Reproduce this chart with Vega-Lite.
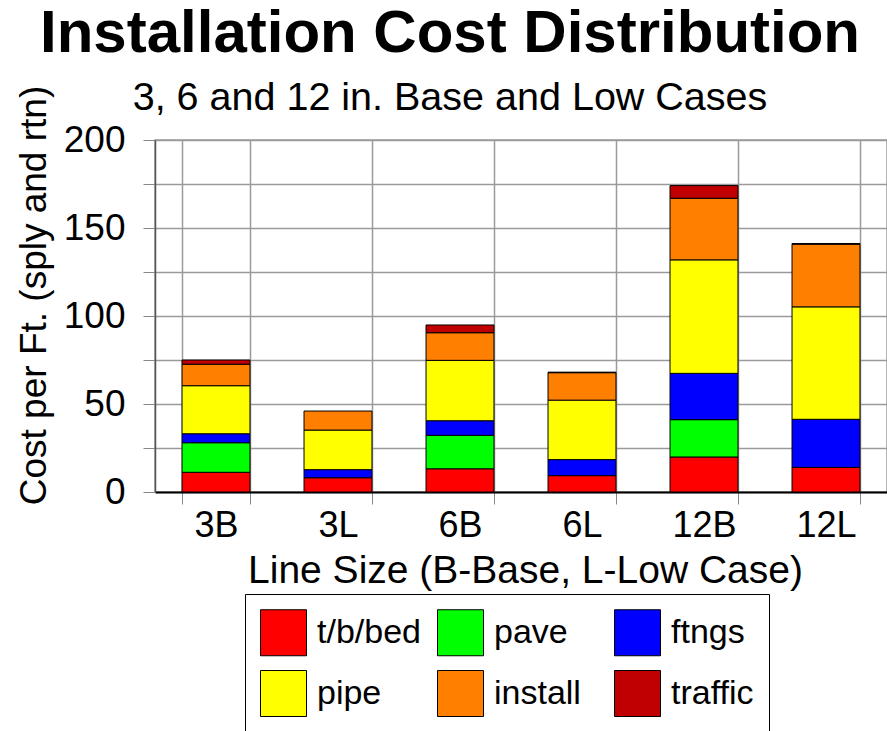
{
  "$schema": "https://vega.github.io/schema/vega-lite/v6.json",
  "width": 732,
  "height": 352,
  "autosize": {"type": "none"},
  "padding": {"left": 155, "top": 140, "right": 0, "bottom": 239},
  "background": "white",
  "config": {
    "font": "Liberation Sans",
    "view": {"stroke": "#9a9a9a", "strokeWidth": 1.5}
  },
  "title": {
    "text": "Installation Cost Distribution",
    "subtitle": "3, 6 and 12 in. Base and Low Cases",
    "font": "Liberation Sans",
    "fontSize": 60,
    "fontWeight": "bold",
    "color": "black",
    "subtitleFont": "Liberation Sans",
    "subtitleFontSize": 39.5,
    "subtitleColor": "black",
    "anchor": "middle",
    "frame": "group",
    "dx": -71,
    "offset": -33,
    "subtitlePadding": 14
  },
  "data": {
    "values": [
      {"line": "3B", "component": "t/b/bed", "ord": 1, "cost": 11.2},
      {"line": "3B", "component": "pave", "ord": 2, "cost": 16.8},
      {"line": "3B", "component": "ftngs", "ord": 3, "cost": 5.1},
      {"line": "3B", "component": "pipe", "ord": 4, "cost": 27.3},
      {"line": "3B", "component": "install", "ord": 5, "cost": 12.2},
      {"line": "3B", "component": "traffic", "ord": 6, "cost": 2.4},
      {"line": "3L", "component": "t/b/bed", "ord": 1, "cost": 8.1},
      {"line": "3L", "component": "ftngs", "ord": 3, "cost": 4.6},
      {"line": "3L", "component": "pipe", "ord": 4, "cost": 22.5},
      {"line": "3L", "component": "install", "ord": 5, "cost": 10.8},
      {"line": "6B", "component": "t/b/bed", "ord": 1, "cost": 13.2},
      {"line": "6B", "component": "pave", "ord": 2, "cost": 19.0},
      {"line": "6B", "component": "ftngs", "ord": 3, "cost": 8.3},
      {"line": "6B", "component": "pipe", "ord": 4, "cost": 34.3},
      {"line": "6B", "component": "install", "ord": 5, "cost": 15.7},
      {"line": "6B", "component": "traffic", "ord": 6, "cost": 4.4},
      {"line": "6L", "component": "t/b/bed", "ord": 1, "cost": 9.3},
      {"line": "6L", "component": "ftngs", "ord": 3, "cost": 9.1},
      {"line": "6L", "component": "pipe", "ord": 4, "cost": 33.8},
      {"line": "6L", "component": "install", "ord": 5, "cost": 15.6},
      {"line": "6L", "component": "traffic", "ord": 6, "cost": 0.3},
      {"line": "12B", "component": "t/b/bed", "ord": 1, "cost": 19.9},
      {"line": "12B", "component": "pave", "ord": 2, "cost": 21.2},
      {"line": "12B", "component": "ftngs", "ord": 3, "cost": 26.3},
      {"line": "12B", "component": "pipe", "ord": 4, "cost": 64.5},
      {"line": "12B", "component": "install", "ord": 5, "cost": 35.0},
      {"line": "12B", "component": "traffic", "ord": 6, "cost": 7.2},
      {"line": "12L", "component": "t/b/bed", "ord": 1, "cost": 14.0},
      {"line": "12L", "component": "ftngs", "ord": 3, "cost": 27.3},
      {"line": "12L", "component": "pipe", "ord": 4, "cost": 63.9},
      {"line": "12L", "component": "install", "ord": 5, "cost": 35.6},
      {"line": "12L", "component": "traffic", "ord": 6, "cost": 0.4}
    ]
  },
  "mark": {"type": "bar", "stroke": "black", "strokeWidth": 1},
  "encoding": {
    "x": {
      "field": "line",
      "type": "nominal",
      "sort": ["3B", "3L", "6B", "6L", "12B", "12L"],
      "scale": {"paddingInner": 0.443, "paddingOuter": 0.2215},
      "axis": {
        "title": "Line Size (B-Base, L-Low Case)",
        "tickBand": "extent",
        "labelAngle": 0,
        "labelFontSize": 36,
        "labelColor": "black",
        "labelPadding": 4,
        "tickSize": 12,
        "tickColor": "#888888",
        "domainColor": "black",
        "domainWidth": 2,
        "grid": true,
        "gridColor": "#9a9a9a",
        "gridWidth": 1.5,
        "titleFontSize": 39,
        "titleFontWeight": "normal",
        "titleColor": "black",
        "titleBaseline": "alphabetic",
        "titleAlign": "center",
        "titleX": 370,
        "titleY": 90
      }
    },
    "y": {
      "field": "cost",
      "type": "quantitative",
      "stack": "zero",
      "scale": {"domain": [0, 200], "nice": false},
      "axis": {
        "title": "Cost per Ft. (sply and rtn)",
        "values": [0, 25, 50, 75, 100, 125, 150, 175, 200],
        "labelExpr": "datum.value % 50 == 0 ? datum.label : ''",
        "labelFontSize": 37,
        "labelColor": "black",
        "labelPadding": 18,
        "tickSize": 12,
        "tickColor": "#888888",
        "domainColor": "#555555",
        "domainWidth": 1.5,
        "grid": true,
        "gridColor": "#9a9a9a",
        "gridWidth": 1.5,
        "titleFontSize": 37,
        "titleFontWeight": "normal",
        "titleColor": "black",
        "titleAngle": -90,
        "titleBaseline": "alphabetic",
        "titleAlign": "center",
        "titleX": -110,
        "titleY": 155
      }
    },
    "color": {
      "field": "component",
      "type": "nominal",
      "scale": {
        "domain": ["t/b/bed", "pipe", "pave", "install", "ftngs", "traffic"],
        "range": ["#ff0000", "#ffff00", "#00ff00", "#ff8000", "#0000ff", "#c00000"]
      },
      "legend": {
        "title": null,
        "orient": "none",
        "legendX": 90,
        "legendY": 454,
        "columns": 3,
        "gridAlign": "all",
        "symbolType": "square",
        "symbolSize": 2116,
        "symbolStrokeColor": "black",
        "symbolStrokeWidth": 1,
        "symbolOpacity": 1,
        "labelFontSize": 34,
        "labelColor": "black",
        "labelOffset": 10,
        "labelLimit": 300,
        "columnPadding": 14,
        "rowPadding": 10,
        "padding": 15,
        "strokeColor": "black",
        "fillColor": "white"
      }
    },
    "order": {"field": "ord", "type": "quantitative"}
  }
}
